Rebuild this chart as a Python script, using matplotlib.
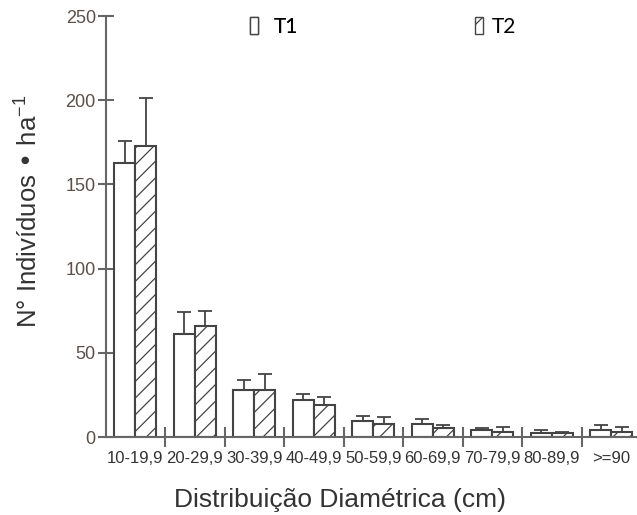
import numpy as np
import matplotlib
matplotlib.use('Agg')
import matplotlib.pyplot as plt
from matplotlib.patches import Patch

# classes diametricas e valores
classes = ['10-19,9', '20-29,9', '30-39,9', '40-49,9', '50-59,9',
           '60-69,9', '70-79,9', '80-89,9', '>=90']
t1 = [162.7, 61.0, 28.1, 21.8, 9.5, 7.7, 4.0, 2.6, 4.4]
t1_err = [12.9, 13.0, 5.8, 4.0, 3.2, 3.2, 1.2, 1.8, 2.6]
t2 = [172.6, 66.1, 28.1, 19.2, 8.0, 5.6, 3.0, 2.4, 2.8]
t2_err = [28.5, 8.7, 9.1, 4.8, 3.9, 1.8, 3.2, 0.6, 3.4]

plt.rcParams['font.family'] = ['Liberation Sans', 'DejaVu Sans']
plt.rcParams['hatch.color'] = '#555555'
plt.rcParams['hatch.linewidth'] = 0.9

axcol = '#666666'
edge = '#444444'

fig = plt.figure(figsize=(6.37, 5.15), dpi=100)
ax = fig.add_axes([105.5 / 637, 78 / 515, 535.5 / 637, 421 / 515])

x = np.arange(len(classes))
w = 0.353
ax.bar(x - w / 2, t1, w, color='white', edgecolor=edge, linewidth=1.5,
       yerr=[np.zeros(len(t1)), t1_err], capsize=5,
       error_kw=dict(ecolor=edge, elinewidth=1.3, capthick=1.3), zorder=2)
ax.bar(x + w / 2, t2, w, color='white', edgecolor=edge, linewidth=1.5,
       hatch='//', yerr=[np.zeros(len(t2)), t2_err], capsize=5,
       error_kw=dict(ecolor=edge, elinewidth=1.3, capthick=1.3), zorder=2)

ax.set_xlim(-0.5, 8.5)
ax.set_ylim(0, 250)
ax.set_yticks([0, 50, 100, 150, 200, 250])

# ticks nas divisoes entre classes, rotulos no centro
ax.set_xticks(x)
ax.set_xticklabels(classes, fontsize=12, color='#333333')
ax.tick_params(axis='x', which='major', length=0, pad=10)
ax.set_xticks(np.arange(0.5, 9, 1), minor=True)
ax.tick_params(axis='x', which='minor', length=14, width=1.5, color=axcol,
               direction='inout')
ax.tick_params(axis='y', direction='inout', length=12, width=1.5, color=axcol,
               labelsize=13, labelcolor='#5a5048', pad=1)

for s in ['top', 'right']:
    ax.spines[s].set_visible(False)
for s in ['left', 'bottom']:
    ax.spines[s].set_color(axcol)
    ax.spines[s].set_linewidth(1.5)

ax.set_xlabel('Distribuição Diamétrica (cm)', fontsize=19, color='#333333',
              va='baseline')
ax.xaxis.set_label_coords((340 - 105.5) / 535.5, (437 - 507) / 421)
ax.set_ylabel('N° Indivíduos • ha$^{\\mathregular{-1}}$', fontsize=18.5,
              color='#333333', va='center')
ax.yaxis.set_label_coords((28 - 105.5) / 535.5, (437 - 211) / 421)

h1 = Patch(facecolor='white', edgecolor='#444444', linewidth=1.0)
h2 = Patch(facecolor='white', edgecolor='#444444', linewidth=1.0, hatch='/')
leg_kw = dict(frameon=False, loc='center left', prop={'family': 'Lato', 'size': 15},
              handlelength=0.4, handleheight=0.85, borderpad=0, borderaxespad=0)
leg1 = fig.legend([h1], ['T1'], bbox_to_anchor=(250 / 637, 1 - 27 / 515),
                  handletextpad=0.75, **leg_kw)
fig.add_artist(leg1)
fig.legend([h2], ['T2'], bbox_to_anchor=(475 / 637, 1 - 27 / 515),
           handletextpad=0.4, **leg_kw)

fig.savefig('out.png', dpi=100)
